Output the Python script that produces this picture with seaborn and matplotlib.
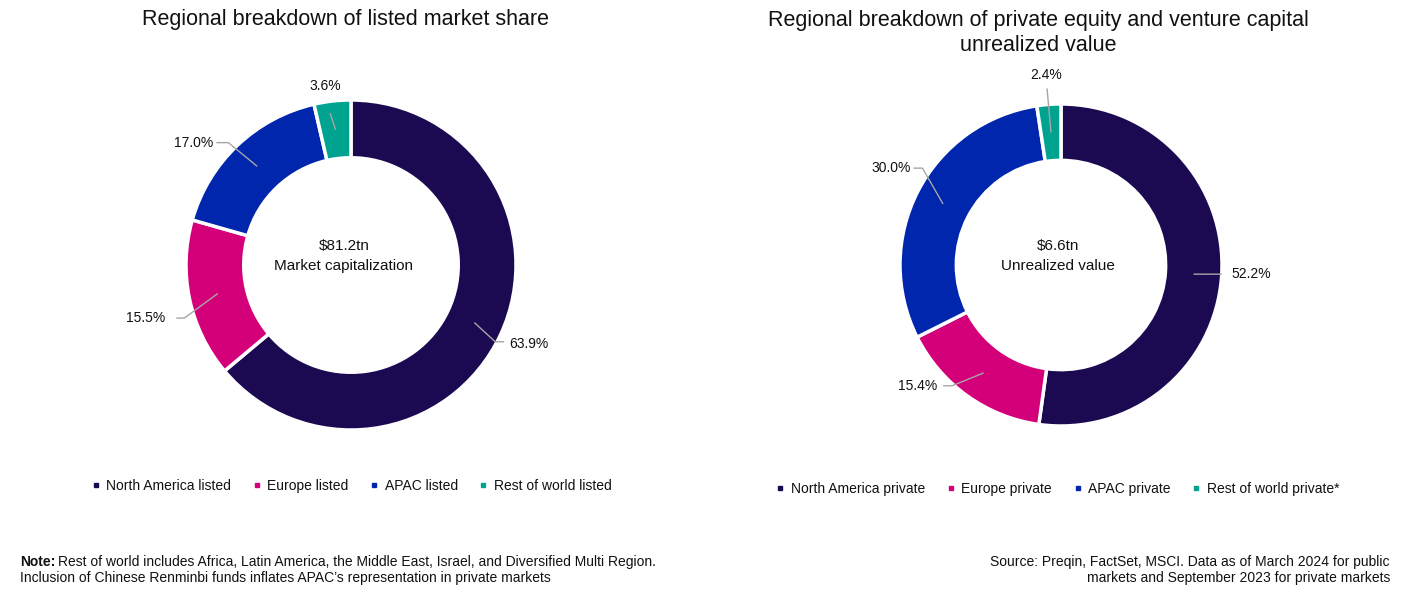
import numpy as np
import seaborn as sns
import matplotlib
matplotlib.use("Agg")
from matplotlib import pyplot as plt
from matplotlib.lines import Line2D

sns.set_theme(style="white")
plt.rcParams['font.family'] = ['Liberation Sans', 'DejaVu Sans']

# data
regions_listed = ["North America listed", "Europe listed", "APAC listed", "Rest of world listed"]
share_listed = [63.9, 15.5, 17.0, 3.6]
regions_private = ["North America private", "Europe private", "APAC private", "Rest of world private*"]
share_private = [52.2, 15.4, 30.0, 2.4]
palette = ["#1b0a52", "#d4007a", "#0026ad", "#00a38f"]

W, H = 1407, 594
RING = 0.35
LINE_COL = "#a6a6a6"
TXT_COL = "#111111"

fig = plt.figure(figsize=(W / 100, H / 100), dpi=100)


def donut_axes(cx, cy, r_px, half_w=300, half_h=230):
    ax = fig.add_axes([(cx - half_w) / W, (H - cy - half_h) / H, 2 * half_w / W, 2 * half_h / H])
    return ax, (half_w / r_px, half_h / r_px)


def draw_donut(ax, lims, values, r_px, layout, center_txt, center_dx):
    ax.pie(values, colors=palette, startangle=90, counterclock=False, radius=1,
           wedgeprops=dict(width=RING, edgecolor="white", linewidth=2.5))
    vals = np.array(values)
    cum = np.cumsum(vals) - vals / 2
    mids = np.deg2rad(90 - 360 * cum / vals.sum())
    r_mid = 1 - RING / 2
    for v, th, (rf, dth, stub, tdx, tdy, ha) in zip(values, mids, layout):
        x0, y0 = r_mid * np.cos(th), r_mid * np.sin(th)
        t1 = th + np.deg2rad(dth)
        x1, y1 = rf * np.cos(t1), rf * np.sin(t1)
        x2 = x1 + stub / r_px
        ax.plot([x0, x1, x2], [y0, y1, y1], color=LINE_COL, lw=1, solid_capstyle="butt")
        ax.text(x2 + tdx / r_px, y1 + tdy / r_px, f"{v:.1f}%", ha=ha, va="center",
                fontsize=10, color=TXT_COL)
    for (dy, s) in center_txt:
        ax.text(center_dx / r_px, dy / r_px, s, ha="center", va="center", fontsize=11, color=TXT_COL)
    ax.set_xlim(-lims[0], lims[0])
    ax.set_ylim(-lims[1], lims[1])
    ax.set_axis_off()


# label layout: radius factor, angle turn, stub px, text dx px, text dy px, ha
layout_left = [(0.99, -3, 9, 5, -2, "left"),
               (1.06, 5.6, -8, -11, 0, "right"),
               (1.05, 1.5, -12, -3, 0, "right"),
               (0.93, 1.4, 0, -5, 27, "center")]
layout_right = [(1.00, 0.7, 0, 10, 0, "left"),
                (1.01, -6.4, -9, -6, 0, "right"),
                (1.05, -7.6, -9, -3, 0, "right"),
                (1.10, 0.2, 0, -1, 13, "center")]

ax1, lim1 = donut_axes(351, 265, 165)
draw_donut(ax1, lim1, share_listed, 165, layout_left,
           [(19, r"\$81.2tn"), (-1, "Market capitalization")], -7)
ax2, lim2 = donut_axes(1061, 265, 161)
draw_donut(ax2, lim2, share_private, 161, layout_right,
           [(19, r"\$6.6tn"), (-1, "Unrealized value")], -3)

# titles
fig.text(345 / W, 1 - 19 / H, "Regional breakdown of listed market share",
         ha="center", va="center", fontsize=15.5, color=TXT_COL)
fig.text(1038 / W, 1 - 33 / H,
         "Regional breakdown of private equity and venture capital\nunrealized value",
         ha="center", va="center", fontsize=15.5, color=TXT_COL, linespacing=1.2)


def legend(labels, cx, cy):
    handles = [Line2D([], [], marker="s", ms=3.5, ls="", color=c) for c in palette]
    fig.legend(handles, labels, loc="center", bbox_to_anchor=(cx / W, 1 - cy / H), ncol=4,
               frameon=False, fontsize=10, handlelength=0.5, handletextpad=0.5,
               columnspacing=1.6, labelcolor=TXT_COL)


legend(regions_listed, 352, 486)
legend(regions_private, 1058, 489)

# footer
note_b = fig.text(20 / W, 1 - 562 / H, "Note:", fontweight="bold", fontsize=10,
                  ha="left", va="center", color=TXT_COL)
r = fig.canvas.get_renderer()
bb = note_b.get_window_extent(renderer=r)
fig.text(bb.x1 / W + 3 / W, 1 - 562 / H,
         "Rest of world includes Africa, Latin America, the Middle East, Israel, and Diversified Multi Region.",
         fontsize=10, ha="left", va="center", color=TXT_COL)
fig.text(20 / W, 1 - 578 / H,
         "Inclusion of Chinese Renminbi funds inflates APAC\u2019s representation in private markets",
         fontsize=10, ha="left", va="center", color=TXT_COL)
fig.text(1390 / W, 1 - 570 / H,
         "Source: Preqin, FactSet, MSCI. Data as of March 2024 for public\nmarkets and September 2023 for private markets",
         fontsize=10, ha="right", va="center", multialignment="right", color=TXT_COL,
         linespacing=1.15)

fig.savefig("out.png", dpi=100)
